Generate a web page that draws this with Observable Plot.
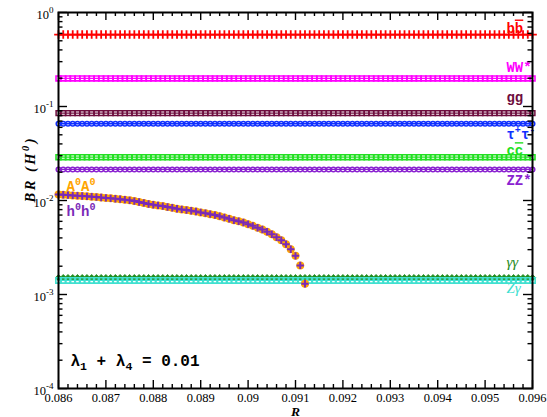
<!DOCTYPE html>
<html>
<head>
<meta charset="utf-8">
<script src="https://cdn.jsdelivr.net/npm/d3@7"></script>
<script src="https://cdn.jsdelivr.net/npm/@observablehq/plot@0.6"></script>
<style>
  body { margin: 0; background: #fff; }
  #chart svg { display: block; }
</style>
</head>
<body>
<div id="chart"></div>
<script>
// Scan points in R (step 1e-4)
const rGrid = [
  0.0860, 0.0861, 0.0862, 0.0863, 0.0864, 0.0865, 0.0866, 0.0867, 0.0868, 0.0869,
  0.0870, 0.0871, 0.0872, 0.0873, 0.0874, 0.0875, 0.0876, 0.0877, 0.0878, 0.0879,
  0.0880, 0.0881, 0.0882, 0.0883, 0.0884, 0.0885, 0.0886, 0.0887, 0.0888, 0.0889,
  0.0890, 0.0891, 0.0892, 0.0893, 0.0894, 0.0895, 0.0896, 0.0897, 0.0898, 0.0899,
  0.0900, 0.0901, 0.0902, 0.0903, 0.0904, 0.0905, 0.0906, 0.0907, 0.0908, 0.0909,
  0.0910, 0.0911, 0.0912, 0.0913, 0.0914, 0.0915, 0.0916, 0.0917, 0.0918, 0.0919,
  0.0920, 0.0921, 0.0922, 0.0923, 0.0924, 0.0925, 0.0926, 0.0927, 0.0928, 0.0929,
  0.0930, 0.0931, 0.0932, 0.0933, 0.0934, 0.0935, 0.0936, 0.0937, 0.0938, 0.0939,
  0.0940, 0.0941, 0.0942, 0.0943, 0.0944, 0.0945, 0.0946, 0.0947, 0.0948, 0.0949,
  0.0950, 0.0951, 0.0952, 0.0953, 0.0954, 0.0955, 0.0956, 0.0957, 0.0958, 0.0959,
  0.0960
];

// H0 decay channels whose branching ratio is flat in R
const channels = ["bb", "WW", "gg", "tautau", "cc", "ZZ", "gamgam", "Zgam"];
const channelLabels = ["b~{b}", "WW*", "gg", "τ^{+}τ^{-}", "c~{c}", "ZZ*", "γγ", "Zγ"];
const brFlat = [0.583, 0.199, 0.085, 0.0655, 0.0289, 0.0214, 0.00151, 0.00141];

// H0 -> A0A0 and H0 -> h0h0 (identical), open up to R = 0.0912
const pairLabels = ["A^{0}A^{0}", "h^{0}h^{0}"];
const brPair = [
  0.01158, 0.01150, 0.01141, 0.01133, 0.01125, 0.01117, 0.01108, 0.01098, 0.01087, 0.01076,
  0.01066, 0.01055, 0.01045, 0.01033, 0.01020, 0.01004, 0.00985, 0.00965, 0.00942, 0.00918,
  0.00902, 0.00887, 0.00872, 0.00853, 0.00838, 0.00818, 0.00804, 0.00790, 0.00777, 0.00764,
  0.00747, 0.00733, 0.00716, 0.00699, 0.00681, 0.00660, 0.00639, 0.00617, 0.00602, 0.00583,
  0.00560, 0.00538, 0.00513, 0.00492, 0.00465, 0.00438, 0.00407, 0.00378, 0.00343, 0.00303,
  0.00258, 0.00204, 0.00130
];

// Axis ticks and labels
const xMajor = [0.086, 0.087, 0.088, 0.089, 0.090, 0.091, 0.092, 0.093, 0.094, 0.095, 0.096];
const xTickLabels = ["0.086", "0.087", "0.088", "0.089", "0.09", "0.091", "0.092", "0.093", "0.094", "0.095", "0.096"];
const yMajor = [1e-4, 1e-3, 1e-2, 1e-1, 1];
const yTickLabels = ["10^{-4}", "10^{-3}", "10^{-2}", "10^{-1}", "10^{0}"];
const xTitle = "R";
const yTitle = "BR (H^{0})";
const annotation = "λ_{1} + λ_{4} = 0.01";

// Minor ticks
const xMinor = d3.range(0, 51).map(i => 0.086 + i * 0.0002).filter(v => !xMajor.some(m => Math.abs(m - v) < 1e-9));
const yMinor = yMajor.slice(0, -1).flatMap(p => [2, 3, 4, 5, 6, 7, 8, 9].map(k => k * p));

// Drawing styles for each channel
const mono = "'Liberation Mono', 'DejaVu Sans Mono', monospace";
const serif = "'Liberation Serif', 'DejaVu Serif', serif";
const look = {
  bb:     {color: "#ff0000", symbol: "plus",     r: 2.9, sw: 1.8, fill: "none", dy: -2,  font: mono},
  WW:     {color: "#ff00ff", symbol: "square",   r: 2.8, sw: 1.6, fill: "none", dy: -6,  font: mono},
  gg:     {color: "#6e0d3e", symbol: "square",   r: 2.7, sw: 1.5, fill: "none", dy: -11, font: mono},
  tautau: {color: "#1030ff", symbol: "circle",   r: 2.3, sw: 1.5, fill: "none", dy: 15,  font: mono},
  cc:     {color: "#22e022", symbol: "square",   r: 2.8, sw: 1.6, fill: "none", dy: -2,  font: mono},
  ZZ:     {color: "#8a22d0", symbol: "circle",   r: 2.3, sw: 1.5, fill: "none", dy: 16,  font: mono},
  gamgam: {color: "#1e8c1e", symbol: "diamond2", r: 2.9, sw: 0.8, fill: "#1e8c1e", dy: -11, font: serif, italic: true},
  Zgam:   {color: "#40e0d0", symbol: "square",   r: 3.0, sw: 1.6, fill: "none", dy: 13,  font: serif, italic: true}
};
const labelR = 0.09545;

const rows = channels.flatMap((c, k) => rGrid.map(R => ({channel: c, R, BR: brFlat[k]})));
const pairRows = brPair.map((BR, i) => ({R: rGrid[i], BR}));

const W = 547, H = 417, mL = 58, mR = 15, mT = 12, mB = 29;
const fw = W - mL - mR, fh = H - mT - mB;

const marks = [];
channels.forEach((c, k) => {
  const s = look[c];
  const data = rows.filter(d => d.channel === c);
  marks.push(Plot.line(data, {x: "R", y: "BR", stroke: s.color, strokeWidth: 1.3}));
  marks.push(Plot.dot(data, {x: "R", y: "BR", symbol: s.symbol, r: s.r, stroke: s.color, strokeWidth: s.sw, fill: s.fill}));
  marks.push(Plot.text([{R: labelR, BR: brFlat[k]}], {
    x: "R", y: "BR", text: () => channelLabels[k], dy: s.dy,
    textAnchor: "start", lineAnchor: "bottom", fill: s.color,
    fontFamily: s.font, fontWeight: s.italic ? "normal" : "bold",
    fontStyle: s.italic ? "italic" : "normal", fontSize: s.italic ? 15 : 14
  }));
});

// A0A0 (orange discs) with h0h0 (purple crosses) on top
marks.push(Plot.dot(pairRows, {x: "R", y: "BR", r: 4, fill: "#ffa500", stroke: "none"}));
marks.push(Plot.dot(pairRows, {x: "R", y: "BR", symbol: "plus", r: 2.5, stroke: "#7a2ab8", strokeWidth: 2}));
marks.push(Plot.text([pairRows[0]], {x: "R", y: "BR", text: () => pairLabels[0], dx: 8, dy: -4,
  textAnchor: "start", lineAnchor: "bottom", fill: "#ffa500", fontFamily: mono, fontWeight: "bold", fontSize: 14}));
marks.push(Plot.text([pairRows[0]], {x: "R", y: "BR", text: () => pairLabels[1], dx: 8, dy: 21,
  textAnchor: "start", lineAnchor: "bottom", fill: "#7a2ab8", fontFamily: mono, fontWeight: "bold", fontSize: 14}));

// Inward ticks on all four sides
const tick = {stroke: "black", strokeWidth: 1.4};
marks.push(Plot.ruleX(xMajor, {x: d => d, insetTop: fh - 8, ...tick}));
marks.push(Plot.ruleX(xMajor, {x: d => d, insetBottom: fh - 8, ...tick}));
marks.push(Plot.ruleX(xMinor, {x: d => d, insetTop: fh - 4, ...tick}));
marks.push(Plot.ruleX(xMinor, {x: d => d, insetBottom: fh - 4, ...tick}));
marks.push(Plot.ruleY(yMajor, {y: d => d, insetRight: fw - 9, ...tick}));
marks.push(Plot.ruleY(yMajor, {y: d => d, insetLeft: fw - 9, ...tick}));
marks.push(Plot.ruleY(yMinor, {y: d => d, insetRight: fw - 4.5, ...tick}));
marks.push(Plot.ruleY(yMinor, {y: d => d, insetLeft: fw - 4.5, ...tick}));
marks.push(Plot.frame({stroke: "black", strokeWidth: 2}));

// Tick labels
marks.push(Plot.text(xMajor, {x: d => d, text: (d, i) => xTickLabels[i], frameAnchor: "bottom", lineAnchor: "top",
  dy: 4.5, fill: "black", fontFamily: serif, fontSize: 12.5}));
marks.push(Plot.text(yMajor, {y: d => d, text: (d, i) => yTickLabels[i], frameAnchor: "left", lineAnchor: "bottom",
  dx: -5, dy: 6, textAnchor: "end", fill: "black", fontFamily: serif, fontSize: 12.5}));

// Axis titles
marks.push(Plot.text([xTitle], {text: d => d, frameAnchor: "bottom", dy: 27, lineAnchor: "bottom",
  fontFamily: serif, fontWeight: "bold", fontStyle: "italic", fontSize: 13.5, fill: "black"}));
marks.push(Plot.text([yTitle], {text: d => d, frameAnchor: "left", dx: -28, dy: 2, rotate: -90,
  fontFamily: serif, fontWeight: "bold", fontStyle: "italic", fontSize: 14.5, fill: "black"}));

// Parameter annotation
marks.push(Plot.text([annotation], {text: d => d, frameAnchor: "bottom-left", dx: 12, dy: -23, lineAnchor: "bottom",
  textAnchor: "start", fontFamily: mono, fontWeight: "bold", fontSize: 16, fill: "black"}));

const chart = Plot.plot({
  width: W, height: H,
  marginLeft: mL, marginRight: mR, marginTop: mT, marginBottom: mB,
  x: {domain: [0.086, 0.096], axis: null},
  y: {type: "log", domain: [1e-4, 1], axis: null},
  style: {background: "white", overflow: "visible"},
  marks
});
document.getElementById("chart").appendChild(chart);

// Turn ^{..} (superscript), _{..} (subscript) and ~{..} (overline) into tspans
const SVGNS = "http://www.w3.org/2000/svg";
chart.querySelectorAll("text").forEach(el => {
  const src = el.textContent;
  if (src === yTitle) el.setAttribute("letter-spacing", "2.5");
  if (!/[\^_~]\{/.test(src)) return;
  const fs = parseFloat(getComputedStyle(el).fontSize) || 12;
  const re = /([\^_~])\{([^}]*)\}/g;
  const parts = [];
  let last = 0, m;
  while ((m = re.exec(src))) {
    if (m.index > last) parts.push({t: "", s: src.slice(last, m.index)});
    parts.push({t: m[1], s: m[2]});
    last = re.lastIndex;
  }
  if (last < src.length) parts.push({t: "", s: src.slice(last)});
  el.textContent = "";
  let shift = 0;
  for (const p of parts) {
    const ts = document.createElementNS(SVGNS, "tspan");
    const target = p.t === "^" ? -0.42 * fs : p.t === "_" ? 0.3 * fs : 0;
    if (target !== shift) ts.setAttribute("dy", target - shift);
    shift = target;
    if (p.t === "^" || p.t === "_") ts.setAttribute("font-size", (0.72 * fs).toFixed(1));
    if (p.t === "~") ts.setAttribute("text-decoration", "overline");
    ts.textContent = p.s;
    el.appendChild(ts);
  }
});
</script>
</body>
</html>
